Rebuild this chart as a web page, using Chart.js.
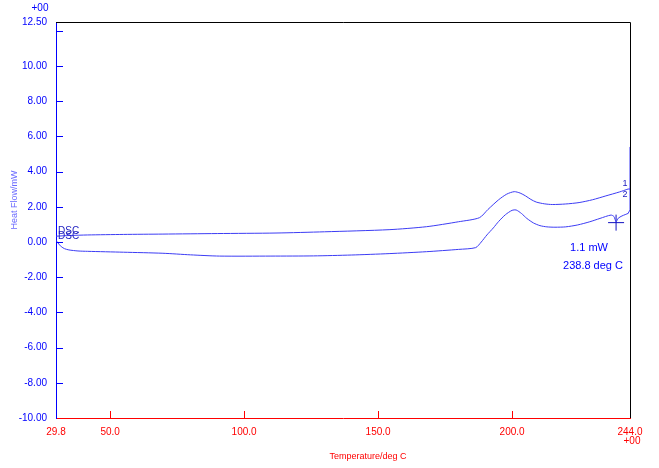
<!DOCTYPE html>
<html>
<head>
<meta charset="utf-8">
<script src="https://cdn.jsdelivr.net/npm/chart.js@4/dist/chart.umd.min.js"></script>
<style>
  html, body { margin: 0; padding: 0; background: #fff; }
  #wrap { width: 659px; height: 468px; }
</style>
</head>
<body>
<div id="wrap"><canvas id="dscChart" width="659" height="468"></canvas></div>
<script>
// curve 1 (upper)
var temp1 = [29.8, 35, 41.6, 55, 69.7, 90, 111.9, 130, 154.1, 168.1, 180, 187.8, 191, 194.9, 198, 200.8, 203, 205, 207, 209, 212, 215, 220, 225, 230, 235, 240, 243.3];
var flow1 = [0.33, 0.37, 0.40, 0.43, 0.45, 0.48, 0.51, 0.58, 0.70, 0.87, 1.15, 1.38, 1.85, 2.39, 2.72, 2.86, 2.78, 2.62, 2.42, 2.27, 2.17, 2.13, 2.16, 2.24, 2.40, 2.62, 2.84, 3.01];
// curve 2 (lower)
var temp2 = [29.8, 30.5, 31.8, 33, 34.6, 38, 41.6, 55, 69.7, 80, 90.8, 110, 125.9, 140, 154.1, 168.1, 180, 186.4, 188.5, 190.6, 193, 195, 197.5, 200, 201.5, 203.5, 205.5, 208, 210.4, 213, 216, 220, 224.5, 229, 232.8, 236.9, 238.0, 238.8, 239.6, 241, 243.4];
var flow2 = [0.10, -0.05, -0.27, -0.38, -0.45, -0.51, -0.53, -0.58, -0.64, -0.73, -0.80, -0.80, -0.79, -0.74, -0.66, -0.55, -0.42, -0.32, 0.0, 0.40, 0.80, 1.17, 1.55, 1.80, 1.82, 1.62, 1.34, 1.08, 0.93, 0.86, 0.84, 0.86, 0.97, 1.15, 1.34, 1.53, 1.45, 1.15, 1.35, 1.48, 1.63];
// isothermal ends at 244.0
var holdTemp = [243.3, 244.0, 244.0];
var holdFlow1 = [3.01, 3.01, 5.4];
var holdFlow2 = [1.63, 1.82, 3.01];
// cursor
var cursorTemp = [238.8];
var cursorFlow = [1.1];

var xTicks = [29.8, 50, 100, 150, 200, 244.0];
var yTicks = [-10, -8, -6, -4, -2, 0, 2, 4, 6, 8, 10, 12, 12.5];

var lineColor = '#3c3cf4';
var blue = '#0000ff';
var red = '#ff0000';

function pts(xs, ys) {
    return xs.map(function (v, i) { return { x: v, y: ys[i] }; });
}

Chart.defaults.font.family = '"Liberation Sans", Arial, sans-serif';
Chart.defaults.font.size = 10;

// extra drawing: inner tick marks, frame, texts
var decor = {
    id: 'decor',
    afterDraw: function (chart) {
        var ctx = chart.ctx, a = chart.chartArea;
        var xs = chart.scales.x, ys = chart.scales.y;
        ctx.save();
        ctx.lineWidth = 1;
        ctx.strokeStyle = '#000';
        ctx.beginPath();
        ctx.moveTo(a.left, a.top + 0.5);
        ctx.lineTo(a.right + 0.5, a.top + 0.5);
        ctx.lineTo(a.right + 0.5, a.bottom);
        ctx.stroke();

        ctx.strokeStyle = blue;
        ctx.beginPath();
        yTicks.forEach(function (v) {
            if (v === -10 || v === 12.5) return;
            var py = Math.round(ys.getPixelForValue(v)) + 0.5;
            ctx.moveTo(a.left, py);
            ctx.lineTo(a.left + 7, py);
        });
        ctx.stroke();

        ctx.strokeStyle = red;
        ctx.beginPath();
        xTicks.forEach(function (v, i) {
            if (i === 0 || i === xTicks.length - 1) return;
            var px = Math.round(xs.getPixelForValue(v)) + 0.5;
            ctx.moveTo(px, a.bottom);
            ctx.lineTo(px, a.bottom - 7);
        });
        ctx.stroke();

        ctx.font = '10px "Liberation Sans", Arial';
        ctx.textAlign = 'center';
        ctx.textBaseline = 'middle';
        ctx.fillStyle = blue;
        ctx.fillText('+00', 40, 8);
        ctx.fillStyle = red;
        ctx.fillText('+00', 632, 441);

        ctx.font = '9px "Liberation Sans", Arial';
        ctx.fillText('Temperature/deg C', 368, 457);

        ctx.save();
        ctx.translate(15, 200);
        ctx.rotate(-Math.PI / 2);
        ctx.fillStyle = '#6a6aff';
        ctx.fillText('Heat Flow/mW', 0, 0);
        ctx.restore();

        // curve labels
        ctx.fillStyle = '#2020c0';
        ctx.font = '10px "Liberation Sans", Arial';
        ctx.textAlign = 'left';
        ctx.fillText('DSC', 58, 231);
        ctx.fillText('DSC', 58, 236);
        ctx.font = '9px "Liberation Sans", Arial';
        ctx.textAlign = 'center';
        ctx.fillText('1', 625, 184);
        ctx.fillText('2', 625, 195);

        // cursor readout
        ctx.fillStyle = blue;
        ctx.font = '11px "Liberation Sans", Arial';
        ctx.fillText('1.1 mW', 589, 248);
        ctx.fillText('238.8 deg C', 593, 266);
        ctx.restore();
    }
};

var ctx = document.getElementById('dscChart').getContext('2d');
var myChart = new Chart(ctx, {
    type: 'line',
    data: {
        datasets: [
            { data: pts(temp1, flow1), borderColor: lineColor, borderWidth: 1, pointRadius: 0, tension: 0.25, fill: false },
            { data: pts(temp2, flow2), borderColor: lineColor, borderWidth: 1, pointRadius: 0, tension: 0.25, fill: false },
            { data: pts(holdTemp, holdFlow1), borderColor: lineColor, borderWidth: 1, pointRadius: 0, tension: 0, fill: false },
            { data: pts(holdTemp, holdFlow2), borderColor: lineColor, borderWidth: 1, pointRadius: 0, tension: 0, fill: false },
            { data: pts(cursorTemp, cursorFlow), showLine: false, pointStyle: 'cross', pointRadius: 8,
              borderColor: '#1010c0', borderWidth: 1, backgroundColor: 'transparent' }
        ]
    },
    options: {
        responsive: false,
        animation: false,
        layout: { padding: { top: 22, right: 29, left: 0, bottom: 0 } },
        plugins: { legend: { display: false }, tooltip: { enabled: false } },
        scales: {
            x: {
                type: 'linear',
                min: 29.8,
                max: 244.0,
                afterBuildTicks: function (scale) {
                    scale.ticks = xTicks.map(function (v) { return { value: v }; });
                },
                afterFit: function (scale) { scale.height = 50; },
                ticks: {
                    color: red,
                    padding: 8,
                    maxRotation: 0,
                    autoSkip: false,
                    callback: function (v) { return Number(v).toFixed(1); }
                },
                grid: { display: false, drawTicks: false },
                border: { display: true, color: red, width: 1 }
            },
            y: {
                min: -10,
                max: 12.5,
                afterBuildTicks: function (scale) {
                    scale.ticks = yTicks.map(function (v) { return { value: v }; });
                },
                afterFit: function (scale) { scale.width = 56; },
                ticks: {
                    color: blue,
                    padding: 9,
                    autoSkip: false,
                    callback: function (v) { return v === 12 ? '' : Number(v).toFixed(2); }
                },
                grid: { display: false, drawTicks: false },
                border: { display: true, color: blue, width: 1 }
            }
        }
    },
    plugins: [decor]
});
</script>
</body>
</html>
